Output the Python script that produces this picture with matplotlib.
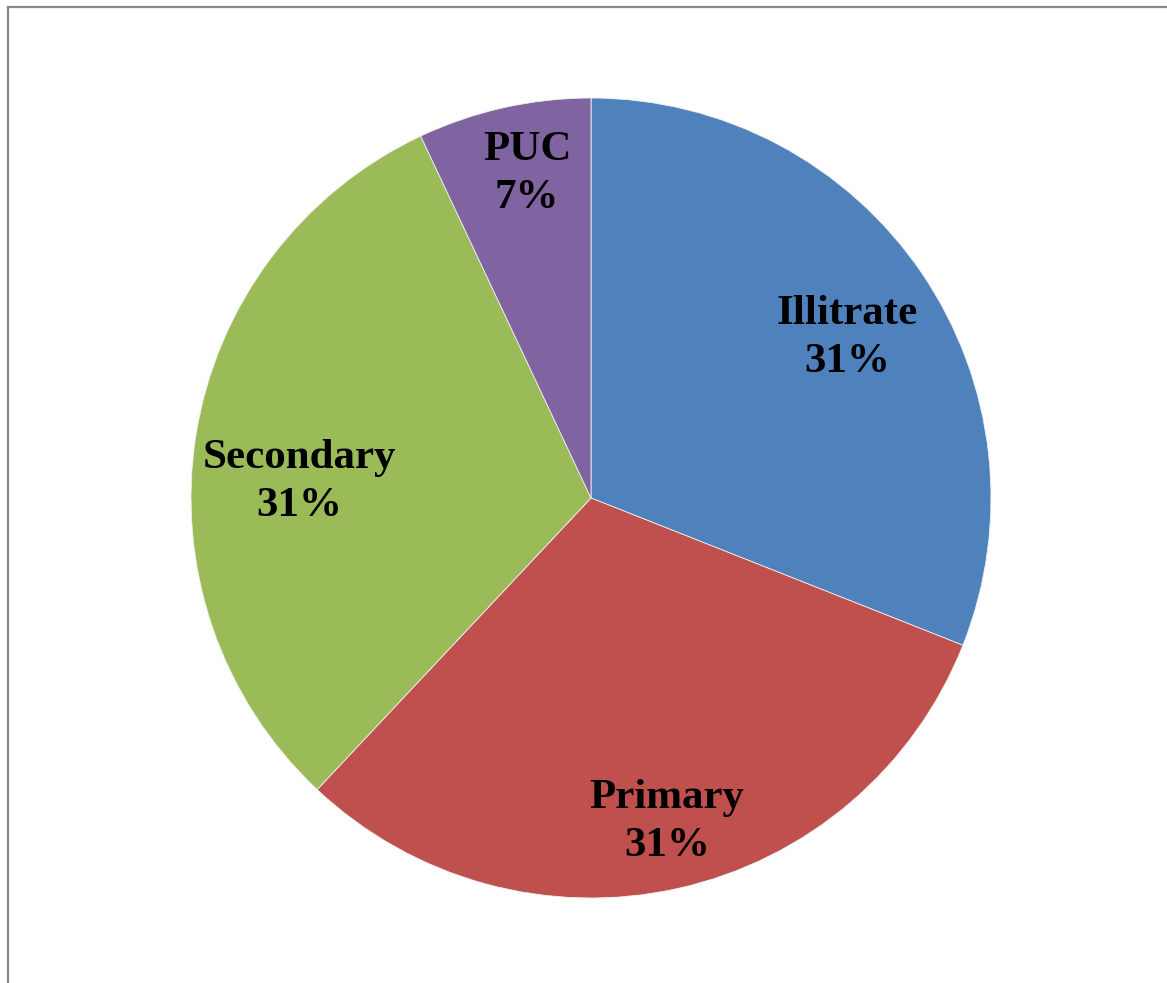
import matplotlib.pyplot as plt
from matplotlib.lines import Line2D

# Доли категорий (в процентах)
categories = ['Illitrate', 'Primary', 'Secondary', 'PUC']
values = [31, 31, 31, 7]
colors = ['#4F81BD', '#C0504D', '#9BBB59', '#8064A2']

# Положение подписей внутри секторов (в координатах осей круга)
label_xy = [(0.64, 0.40), (0.19, -0.81), (-0.73, 0.04), (-0.16, 0.81)]

fig = plt.figure(figsize=(11.67, 9.83), dpi=100)

# Рамка области диаграммы (видны только левая и верхняя стороны)
fig.add_artist(Line2D([0.0068, 0.0068], [0, 0.9925], transform=fig.transFigure,
                      color='#888888', linewidth=1.6))
fig.add_artist(Line2D([0.0068, 1], [0.9925, 0.9925], transform=fig.transFigure,
                      color='#888888', linewidth=1.6))

# Оси для круга: центр (591, 498), радиус 400 пикселей
W, H = 1167, 983
ax = fig.add_axes([(591 - 400) / W, (H - 498 - 400) / H, 800 / W, 800 / H])
ax.pie(values, colors=colors, startangle=90, counterclock=False,
       wedgeprops=dict(edgecolor='#f0f0f0', linewidth=0.6))
ax.set_xlim(-1, 1)
ax.set_ylim(-1, 1)
ax.set_aspect('equal')
ax.axis('off')

# Подписи: название и процент
for name, v, (x, y) in zip(categories, values, label_xy):
    ax.text(x, y, f'{name}\n{v}%', ha='center', va='center',
            fontsize=31, fontweight='bold', family='Liberation Serif',
            linespacing=1.35)

plt.savefig('out.png', dpi=100)
